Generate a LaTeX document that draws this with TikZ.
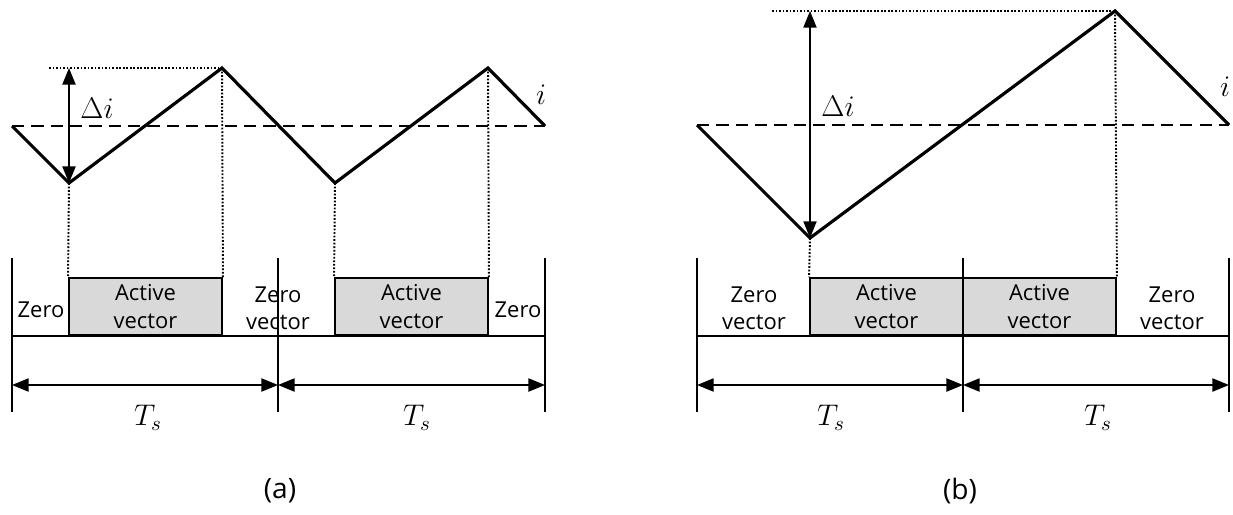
\documentclass[tikz,border=0pt]{standalone}
\usepackage{fix-cm}
\usepackage{fontspec}
\setmainfont{Open Sans}
\usepackage{tikz}
\usetikzlibrary{arrows.meta}

\tikzset{
  wave/.style={line width=1.8pt, line join=miter},
  guide/.style={line width=1.1pt, dash pattern=on 1pt off 1pt},
  avg/.style={line width=1pt, dash pattern=on 7pt off 4pt},
  tick/.style={line width=0.8pt},
  span/.style={line width=1pt, {Triangle[length=9.5pt,width=7.5pt]}-{Triangle[length=9.5pt,width=7.5pt]}},
  activebox/.style={draw, line width=1.1pt, fill=gray!30, minimum width=3.06cm, minimum height=1.14cm,
    inner sep=0pt, align=center, font=\fontsize{12.5}{15.5}\selectfont},
  lbl/.style={align=center, font=\fontsize{12.5}{15.5}\selectfont},
  mathlbl/.style={font=\fontsize{17}{20}\selectfont},
}

\begin{document}
\begin{tikzpicture}[x=0.02cm, y=-0.02cm]
    \useasboundingbox (0,0) rectangle (1233,514);

    % ---------------- (a) ----------------
    % Current ripple
    \coordinate (a0) at (12,126);
    \coordinate (a1) at (69,183);
    \coordinate (a2) at (222,68);
    \coordinate (a3) at (335,183);
    \coordinate (a4) at (488,68);
    \coordinate (a5) at (545,126);
    \draw[avg] (a0) -- (a5);
    \draw[wave] (a0) -- (a1) -- (a2) -- (a3) -- (a4) -- (a5);

    % Vector intervals
    \node[activebox] (act1) at (145.5,306.5) {Active\\vector};
    \node[activebox] (act2) at (411.5,306.5) {Active\\vector};
    \coordinate (aL) at (12,258);
    \coordinate (aM) at (278,258);
    \coordinate (aR) at (545,258);
    \coordinate (aLb) at (12,412);
    \coordinate (aMb) at (278,412);
    \coordinate (aRb) at (545,412);
    \draw[tick] (aL) -- (aLb);
    \draw[tick] (aM) -- (aMb);
    \draw[tick] (aR) -- (aRb);
    \draw[line width=1pt] (aL |- act1.south) -- (aR |- act1.south);

    % Projections
    \coordinate (aTop) at (49,68);
    \draw[guide] (aTop) -- (a2);
    \draw[guide] (a1) -- (act1.north west);
    \draw[guide] (a2) -- (act1.north east);
    \draw[guide] (a3) -- (act2.north west);
    \draw[guide] (a4) -- (act2.north east);

    % Ripple amplitude
    \coordinate (aDi) at (69,68);
    \draw[span] (aDi) -- (a1);
    \node[mathlbl] (diA) at (97,108) {$\Delta i$};
    \node[mathlbl] (iA) at (541,95) {$i$};

    % Labels
    \node[lbl] (z1) at (41,310) {Zero};
    \node[lbl] (z2) at (278,308) {Zero\\vector};
    \node[lbl] (z3) at (518,310) {Zero};

    % Periods
    \coordinate (aS1) at (12,385);
    \coordinate (aS2) at (278,385);
    \coordinate (aS3) at (545,385);
    \draw[span] (aS1) -- (aS2);
    \draw[span] (aS2) -- (aS3);
    \node[mathlbl] (tsA1) at (148,418) {$T_s$};
    \node[mathlbl] (tsA2) at (417,418) {$T_s$};
    \node[font=\fontsize{16}{19}\selectfont] (capA) at (280,491) {(a)};

    % ---------------- (b) ----------------
    % Current ripple
    \coordinate (b0) at (697,125);
    \coordinate (b1) at (810,238);
    \coordinate (b2) at (1115,11);
    \coordinate (b3) at (1229,125);
    \draw[avg] (b0) -- (b3);
    \draw[wave] (b0) -- (b1) -- (b2) -- (b3);

    % Vector intervals
    \node[activebox] (act3) at (886.5,306.5) {Active\\vector};
    \node[activebox] (act4) at (1039.5,306.5) {Active\\vector};
    \coordinate (bL) at (697,258);
    \coordinate (bM) at (963,258);
    \coordinate (bR) at (1229,258);
    \coordinate (bLb) at (697,412);
    \coordinate (bMb) at (963,412);
    \coordinate (bRb) at (1229,412);
    \draw[tick] (bL) -- (bLb);
    \draw[tick] (bM) -- (bMb);
    \draw[tick] (bR) -- (bRb);
    \draw[line width=1pt] (bL |- act3.south) -- (bR |- act3.south);

    % Projections
    \coordinate (bTop) at (772,11);
    \draw[guide] (bTop) -- (b2);
    \draw[guide] (b1) -- (act3.north west);
    \draw[guide] (b2) -- (act4.north east);

    % Ripple amplitude
    \coordinate (bDi) at (810,11);
    \draw[span, line width=0.8pt] (bDi) -- (b1);
    \node[mathlbl] (diB) at (838,106) {$\Delta i$};
    \node[mathlbl] (iB) at (1225,87) {$i$};

    % Labels
    \node[lbl] (z4) at (754,308) {Zero\\vector};
    \node[lbl] (z5) at (1172,308) {Zero\\vector};

    % Periods
    \coordinate (bS1) at (697,385);
    \coordinate (bS2) at (963,385);
    \coordinate (bS3) at (1229,385);
    \draw[span] (bS1) -- (bS2);
    \draw[span] (bS2) -- (bS3);
    \node[mathlbl] (tsB1) at (831,418) {$T_s$};
    \node[mathlbl] (tsB2) at (1098,418) {$T_s$};
    \node[font=\fontsize{16}{19}\selectfont] (capB) at (960,491) {(b)};
\end{tikzpicture}
\end{document}
